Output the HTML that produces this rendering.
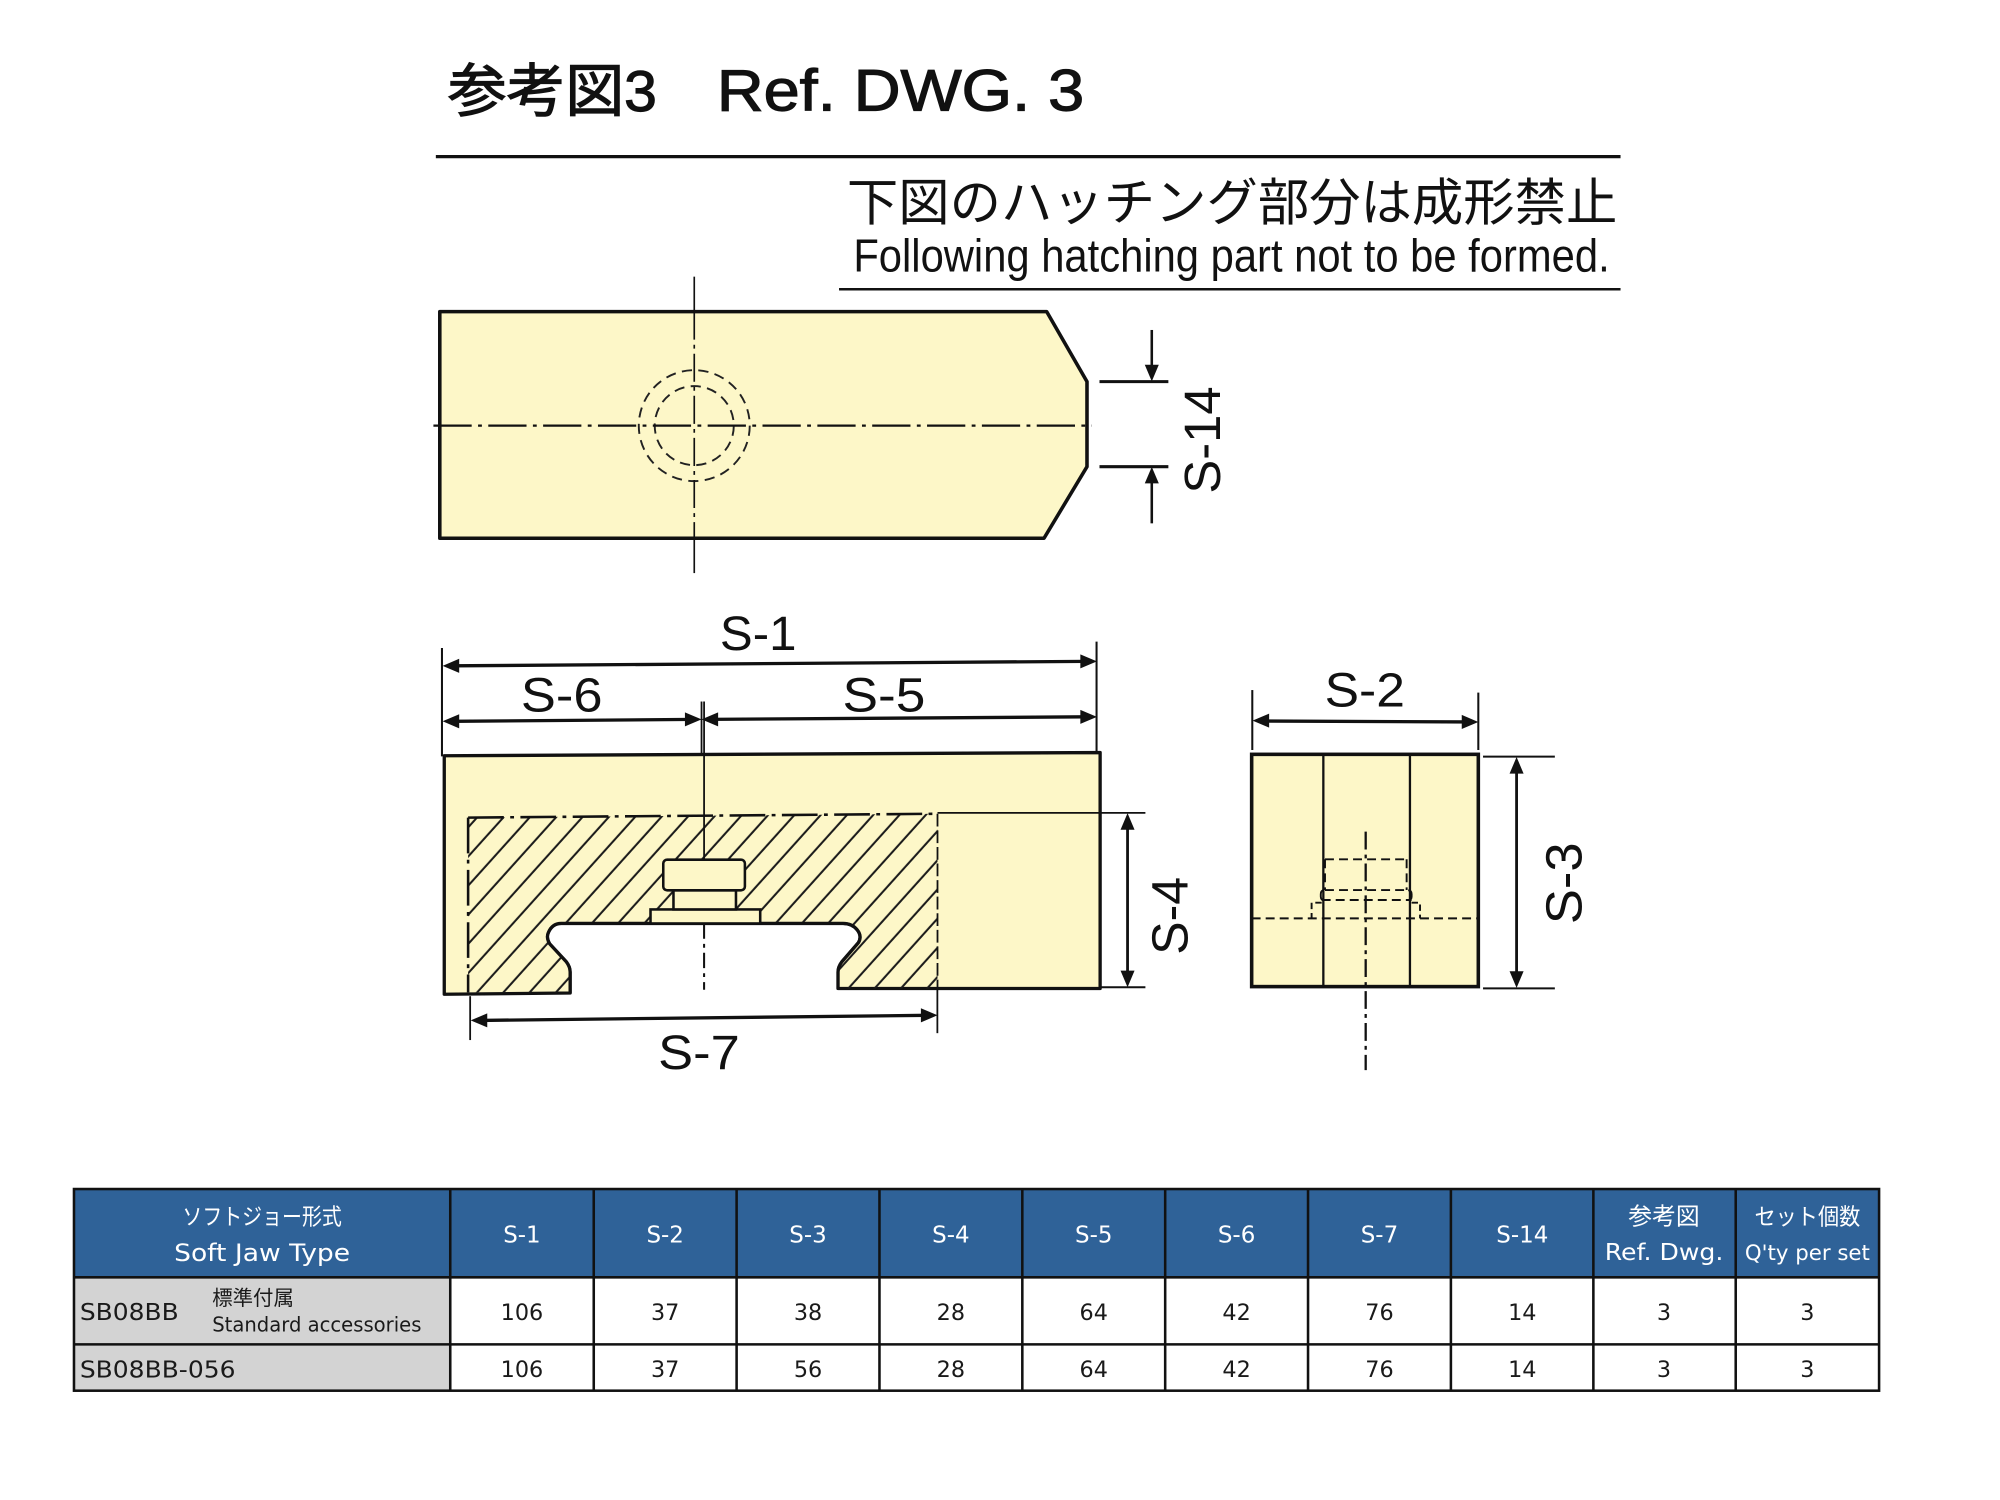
<!DOCTYPE html>
<html>
<head>
<meta charset="utf-8">
<style>
html,body{margin:0;padding:0;background:#fff;}
svg{display:block;}
.lbl{font-family:"Liberation Sans","Noto Sans CJK JP",sans-serif;fill:#111;}
.tb{font-family:"DejaVu Sans","Liberation Sans","Noto Sans CJK JP",sans-serif;}
.jp{font-family:"Liberation Sans","Noto Sans CJK JP",sans-serif;}
</style>
</head>
<body>
<svg width="2000" height="1500" viewBox="0 0 1568 1176" xmlns="http://www.w3.org/2000/svg">
<defs>
  <pattern id="hatch" width="15.3" height="30" patternUnits="userSpaceOnUse" patternTransform="rotate(42)">
    <line x1="3" y1="0" x2="3" y2="30" stroke="#1a1a1a" stroke-width="1.6"/>
  </pattern>
</defs>
<rect x="0" y="0" width="1568" height="1176" fill="#fff"/>

<!-- Title -->
<text class="jp" x="351" y="87" font-size="45" stroke="#111" stroke-width="0.9" textLength="164" lengthAdjust="spacingAndGlyphs" fill="#111">参考図3</text>
<text class="lbl" x="562" y="86.5" font-size="45.5" stroke="#111" stroke-width="0.9" textLength="288" lengthAdjust="spacingAndGlyphs">Ref. DWG. 3</text>
<line x1="341.7" y1="122.8" x2="1270.5" y2="122.8" stroke="#111" stroke-width="2.6"/>

<text class="jp" x="664" y="173" font-size="40" textLength="604" lengthAdjust="spacingAndGlyphs" fill="#111">下図のハッチング部分は成形禁止</text>
<text class="lbl" x="669" y="213" font-size="36.5" textLength="593" lengthAdjust="spacingAndGlyphs">Following hatching part not to be formed.</text>
<line x1="657.8" y1="226.8" x2="1270.5" y2="226.8" stroke="#111" stroke-width="2"/>

<!-- Top view -->
<path d="M344.8,244.3 L820.6,244.3 L852.2,299.2 L852.2,365.9 L818.5,422 L344.8,422 Z" fill="#fdf7c8" stroke="#111" stroke-width="2.8" stroke-linejoin="round"/>
<circle cx="544.3" cy="333.7" r="43.5" fill="none" stroke="#222" stroke-width="1.5" stroke-dasharray="8 5"/>
<circle cx="544.3" cy="333.7" r="31" fill="none" stroke="#222" stroke-width="1.5" stroke-dasharray="8 5"/>
<line x1="339.8" y1="333.7" x2="856" y2="333.7" stroke="#111" stroke-width="1.8" stroke-dasharray="30 5 3 5"/>
<line x1="544.3" y1="216.9" x2="544.3" y2="244.3" stroke="#111" stroke-width="1.3"/>
<line x1="544.3" y1="244.3" x2="544.3" y2="422" stroke="#111" stroke-width="1.3" stroke-dasharray="22 4 3 4"/>
<line x1="544.3" y1="422" x2="544.3" y2="449.3" stroke="#111" stroke-width="1.3"/>

<!-- S-14 dimension -->
<line x1="862" y1="299.2" x2="916" y2="299.2" stroke="#111" stroke-width="2.4"/>
<line x1="862" y1="365.9" x2="916" y2="365.9" stroke="#111" stroke-width="2.4"/>
<line x1="903" y1="258.7" x2="903" y2="290" stroke="#111" stroke-width="2"/>
<polygon points="903,299 897.5,286 908.5,286" fill="#111"/>
<line x1="903" y1="375" x2="903" y2="410.3" stroke="#111" stroke-width="2"/>
<polygon points="903,366 897.5,379 908.5,379" fill="#111"/>
<text class="lbl" transform="translate(942,345) rotate(-90)" x="0" y="14.3" font-size="40" text-anchor="middle" textLength="84" lengthAdjust="spacingAndGlyphs">S-14</text>

<!-- Front view -->
<path d="M348.3,592.5 L862.5,590 L862.5,775 L657,775 L657,762 Q657,758 660,754 L673,739 Q676,734 672,729 Q668,724 661,724 L440,724 Q433,724 430,731 Q428,735 431,740 L444,754 Q447,758 447,762 L447,778.5 L348.3,779.5 Z" fill="#fdf7c8" stroke="#111" stroke-width="2.6" stroke-linejoin="round"/>
<!-- hatch -->
<path d="M367,641 L735,638 L735,775 L657,775 L657,762 Q657,758 660,754 L673,739 Q676,734 672,729 Q668,724 661,724 L440,724 Q433,724 430,731 Q428,735 431,740 L444,754 Q447,758 447,762 L447,778 L367,778 Z" fill="url(#hatch)"/>
<!-- slot outline redraw -->
<path d="M657,775 L657,762 Q657,758 660,754 L673,739 Q676,734 672,729 Q668,724 661,724 L440,724 Q433,724 430,731 Q428,735 431,740 L444,754 Q447,758 447,762 L447,778.5" fill="none" stroke="#111" stroke-width="2.4" stroke-linejoin="round"/>
<!-- bolt -->
<rect x="510" y="713" width="86" height="11" fill="#fdf7c8" stroke="#111" stroke-width="2"/>
<rect x="528" y="698" width="49" height="15" fill="#fdf7c8" stroke="#111" stroke-width="2"/>
<rect x="520" y="674" width="64" height="24" rx="3" fill="#fdf7c8" stroke="#111" stroke-width="2"/>
<!-- hatch boundary lines -->
<line x1="367" y1="641" x2="735" y2="638" stroke="#111" stroke-width="2" stroke-dasharray="28 5 3 5"/>
<line x1="367" y1="641" x2="367" y2="778" stroke="#111" stroke-width="2" stroke-dasharray="28 5 3 5"/>
<line x1="735" y1="638" x2="735" y2="775" stroke="#111" stroke-width="1.4" stroke-dasharray="10 3"/>
<!-- centerline -->
<line x1="552" y1="550" x2="552" y2="674" stroke="#111" stroke-width="1.4"/>
<line x1="552" y1="724" x2="552" y2="776" stroke="#111" stroke-width="1.6" stroke-dasharray="12 4 3 4"/>

<!-- S-1 / S-5 / S-6 -->
<line x1="346.5" y1="508" x2="346.5" y2="593" stroke="#111" stroke-width="1.6"/>
<line x1="859.7" y1="503" x2="859.7" y2="590" stroke="#111" stroke-width="1.6"/>
<line x1="550" y1="550" x2="550" y2="592" stroke="#111" stroke-width="1.4"/>
<line x1="355" y1="522" x2="852" y2="518.5" stroke="#111" stroke-width="2.6"/>
<polygon points="347,522 360,516.5 360,527.5" fill="#111"/>
<polygon points="860,518.5 847,513 847,524" fill="#111"/>
<line x1="355" y1="565.5" x2="545" y2="564" stroke="#111" stroke-width="2.6"/>
<polygon points="347,565.5 360,560 360,571" fill="#111"/>
<polygon points="550,564 537,558.5 537,569.5" fill="#111"/>
<line x1="555" y1="564" x2="852" y2="562" stroke="#111" stroke-width="2.6"/>
<polygon points="550,564 563,558.5 563,569.5" fill="#111"/>
<polygon points="860,562 847,556.5 847,567.5" fill="#111"/>
<text class="lbl" x="594.4" y="509.6" font-size="38" text-anchor="middle" textLength="60" lengthAdjust="spacingAndGlyphs">S-1</text>
<text class="lbl" x="440.4" y="558" font-size="38" text-anchor="middle" textLength="64" lengthAdjust="spacingAndGlyphs">S-6</text>
<text class="lbl" x="693" y="558" font-size="38" text-anchor="middle" textLength="65" lengthAdjust="spacingAndGlyphs">S-5</text>

<!-- S-4 -->
<line x1="735" y1="637.3" x2="898" y2="637.3" stroke="#111" stroke-width="1.4"/>
<line x1="862" y1="774" x2="898" y2="774" stroke="#111" stroke-width="1.6"/>
<line x1="884" y1="645" x2="884" y2="766" stroke="#111" stroke-width="2.2"/>
<polygon points="884,637.5 878.5,650.5 889.5,650.5" fill="#111"/>
<polygon points="884,774 878.5,761 889.5,761" fill="#111"/>
<text class="lbl" transform="translate(916.5,718) rotate(-90)" x="0" y="14.3" font-size="40" text-anchor="middle" textLength="61" lengthAdjust="spacingAndGlyphs">S-4</text>

<!-- S-7 -->
<line x1="368.6" y1="781" x2="368.6" y2="815.4" stroke="#111" stroke-width="1.4"/>
<line x1="734.9" y1="776" x2="734.9" y2="810" stroke="#111" stroke-width="1.4"/>
<line x1="377" y1="800" x2="727" y2="796" stroke="#111" stroke-width="2.6"/>
<polygon points="369,800 382,794.5 382,805.5" fill="#111"/>
<polygon points="735,796 722,790.5 722,801.5" fill="#111"/>
<text class="lbl" x="548" y="838" font-size="38" text-anchor="middle" textLength="64" lengthAdjust="spacingAndGlyphs">S-7</text>

<!-- Side view -->
<rect x="981.3" y="591.4" width="177.7" height="182.1" fill="#fdf7c8" stroke="#111" stroke-width="2.8"/>
<line x1="1037.5" y1="591.4" x2="1037.5" y2="773.5" stroke="#111" stroke-width="1.8"/>
<line x1="1105.4" y1="591.4" x2="1105.4" y2="773.5" stroke="#111" stroke-width="1.8"/>
<g stroke="#111" stroke-width="1.5" fill="none">
  <line x1="1038.8" y1="673.7" x2="1102.8" y2="673.7" stroke-dasharray="7 4"/>
  <line x1="1038.8" y1="673.7" x2="1038.8" y2="697.8" stroke-dasharray="7 4"/>
  <line x1="1102.8" y1="673.7" x2="1102.8" y2="697.8" stroke-dasharray="7 4"/>
  <line x1="1038.8" y1="697.8" x2="1102.8" y2="697.8" stroke-dasharray="7 4"/>
  <path d="M1038,698 Q1035.5,698 1035.5,701 L1035.5,703 Q1035.5,705.6 1038,705.6"/>
  <path d="M1104,698 Q1106.7,698 1106.7,701 L1106.7,703 Q1106.7,705.6 1104,705.6"/>
  <line x1="1036.2" y1="705.6" x2="1106.7" y2="705.6" stroke-dasharray="7 4"/>
  <polyline points="1036.2,707.7 1028.3,707.7 1028.3,720" stroke-dasharray="5 3"/>
  <polyline points="1106.7,707.7 1113.3,707.7 1113.3,720" stroke-dasharray="5 3"/>
  <line x1="981.3" y1="720" x2="1159" y2="720" stroke-dasharray="7 4"/>
</g>
<line x1="1070.7" y1="652" x2="1070.7" y2="839" stroke="#111" stroke-width="1.8" stroke-dasharray="14 4 3 4"/>

<!-- S-2 -->
<line x1="981.8" y1="541" x2="981.8" y2="588" stroke="#111" stroke-width="1.6"/>
<line x1="1159" y1="543" x2="1159" y2="588" stroke="#111" stroke-width="1.6"/>
<line x1="990" y1="565.3" x2="1151" y2="566" stroke="#111" stroke-width="2.6"/>
<polygon points="982,565 995,559.5 995,570.5" fill="#111"/>
<polygon points="1159,566 1146,560.5 1146,571.5" fill="#111"/>
<text class="lbl" x="1070" y="554" font-size="38" text-anchor="middle" textLength="63" lengthAdjust="spacingAndGlyphs">S-2</text>

<!-- S-3 -->
<line x1="1162.7" y1="593.2" x2="1219" y2="593.2" stroke="#111" stroke-width="1.6"/>
<line x1="1162.7" y1="774.9" x2="1219" y2="774.9" stroke="#111" stroke-width="1.6"/>
<line x1="1189" y1="601" x2="1189" y2="767" stroke="#111" stroke-width="2.2"/>
<polygon points="1189,593.5 1183.5,606.5 1194.5,606.5" fill="#111"/>
<polygon points="1189,774.5 1183.5,761.5 1194.5,761.5" fill="#111"/>
<text class="lbl" transform="translate(1225.6,692.5) rotate(-90)" x="0" y="14.3" font-size="40" text-anchor="middle" textLength="64" lengthAdjust="spacingAndGlyphs">S-3</text>

<!-- Table -->
<rect x="58" y="932.2" width="1415.2" height="69.2" fill="#2f6298"/>
<rect x="58" y="1001.4" width="295" height="88.9" fill="#d3d3d3"/>
<rect x="353" y="1001.4" width="1120.2" height="88.9" fill="#fff"/>
<g stroke="#111" stroke-width="2" fill="none">
  <rect x="58" y="932.2" width="1415.2" height="158.1"/>
  <line x1="58" y1="1001.4" x2="1473.2" y2="1001.4"/>
  <line x1="58" y1="1054" x2="1473.2" y2="1054"/>
  <line x1="353" y1="932.2" x2="353" y2="1090.3"/>
  <line x1="465.5" y1="932.2" x2="465.5" y2="1090.3"/>
  <line x1="577.5" y1="932.2" x2="577.5" y2="1090.3"/>
  <line x1="689.5" y1="932.2" x2="689.5" y2="1090.3"/>
  <line x1="801.5" y1="932.2" x2="801.5" y2="1090.3"/>
  <line x1="913.5" y1="932.2" x2="913.5" y2="1090.3"/>
  <line x1="1025.5" y1="932.2" x2="1025.5" y2="1090.3"/>
  <line x1="1137.5" y1="932.2" x2="1137.5" y2="1090.3"/>
  <line x1="1249.2" y1="932.2" x2="1249.2" y2="1090.3"/>
  <line x1="1360.8" y1="932.2" x2="1360.8" y2="1090.3"/>
</g>
<g class="tb" fill="#fff" text-anchor="middle">
  <text x="205.5" y="960" font-size="18" textLength="125" lengthAdjust="spacingAndGlyphs">ソフトジョー形式</text>
  <text x="205.5" y="988.5" font-size="19" textLength="138" lengthAdjust="spacingAndGlyphs">Soft Jaw Type</text>
  <text x="409.2" y="974" font-size="18">S-1</text>
  <text x="521.5" y="974" font-size="18">S-2</text>
  <text x="633.5" y="974" font-size="18">S-3</text>
  <text x="745.5" y="974" font-size="18">S-4</text>
  <text x="857.5" y="974" font-size="18">S-5</text>
  <text x="969.5" y="974" font-size="18">S-6</text>
  <text x="1081.5" y="974" font-size="18">S-7</text>
  <text x="1193.5" y="974" font-size="18">S-14</text>
  <text x="1304.6" y="960" font-size="18.5" textLength="56" lengthAdjust="spacingAndGlyphs">参考図</text>
  <text x="1304.6" y="987.8" font-size="18" textLength="93" lengthAdjust="spacingAndGlyphs">Ref. Dwg.</text>
  <text x="1417" y="960" font-size="18" textLength="83" lengthAdjust="spacingAndGlyphs">セット個数</text>
  <text x="1417" y="987.8" font-size="17" textLength="98" lengthAdjust="spacingAndGlyphs">Q'ty per set</text>
</g>
<g class="tb" fill="#1a1a1a">
  <text x="62.6" y="1035" font-size="18" textLength="77.5" lengthAdjust="spacingAndGlyphs">SB08BB</text>
  <text x="166.4" y="1023" font-size="16" textLength="64" lengthAdjust="spacingAndGlyphs">標準付属</text>
  <text x="166.4" y="1044" font-size="16" textLength="164" lengthAdjust="spacingAndGlyphs">Standard accessories</text>
  <text x="62.6" y="1080" font-size="18" textLength="122" lengthAdjust="spacingAndGlyphs">SB08BB-056</text>
</g>
<g class="tb" fill="#1a1a1a" text-anchor="middle" font-size="17.5">
  <text x="409.2" y="1035">106</text>
  <text x="521.5" y="1035">37</text>
  <text x="633.5" y="1035">38</text>
  <text x="745.5" y="1035">28</text>
  <text x="857.5" y="1035">64</text>
  <text x="969.5" y="1035">42</text>
  <text x="1081.5" y="1035">76</text>
  <text x="1193.5" y="1035">14</text>
  <text x="1304.6" y="1035">3</text>
  <text x="1417" y="1035">3</text>
  <text x="409.2" y="1079.5">106</text>
  <text x="521.5" y="1079.5">37</text>
  <text x="633.5" y="1079.5">56</text>
  <text x="745.5" y="1079.5">28</text>
  <text x="857.5" y="1079.5">64</text>
  <text x="969.5" y="1079.5">42</text>
  <text x="1081.5" y="1079.5">76</text>
  <text x="1193.5" y="1079.5">14</text>
  <text x="1304.6" y="1079.5">3</text>
  <text x="1417" y="1079.5">3</text>
</g>
</svg>
</body>
</html>
